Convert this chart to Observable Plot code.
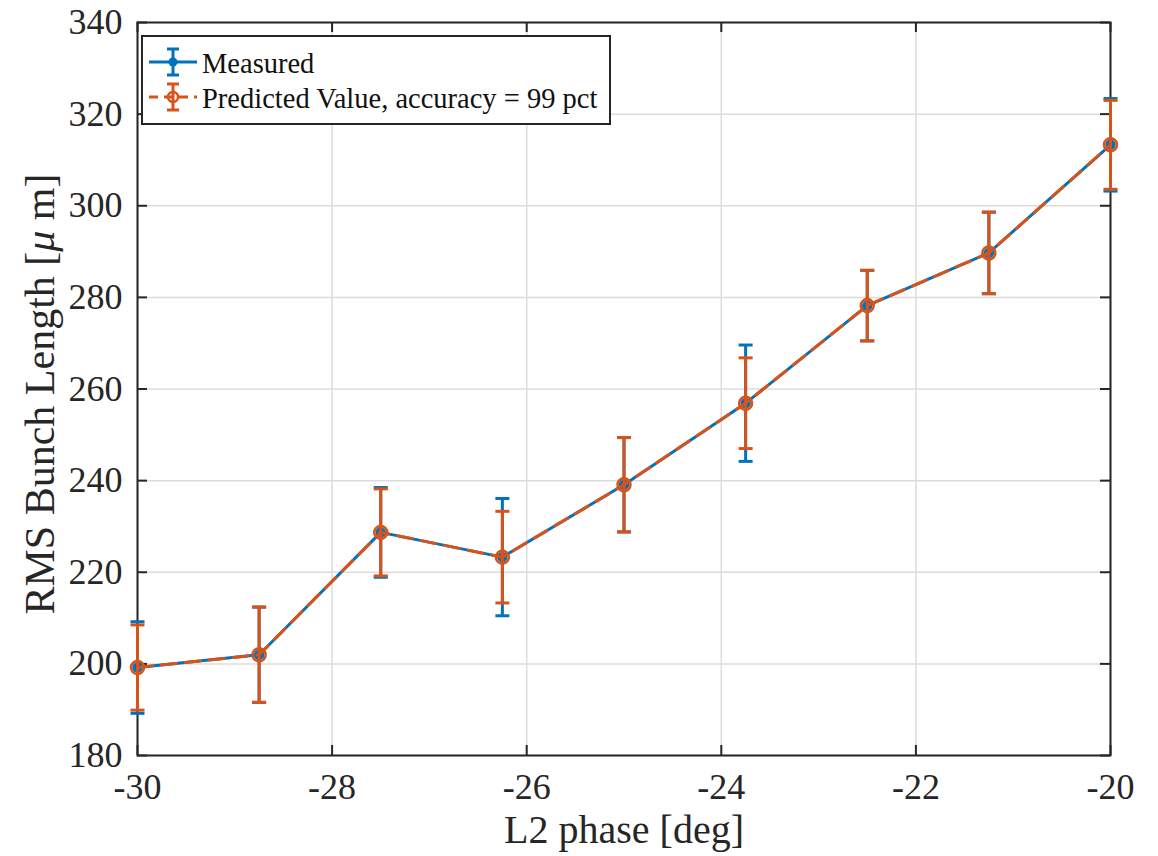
<!DOCTYPE html>
<html>
<head>
<meta charset="utf-8">
<script src="https://cdn.jsdelivr.net/npm/d3@7"></script>
<script src="https://cdn.jsdelivr.net/npm/@observablehq/plot@0.6"></script>
<style>
  html, body { margin: 0; padding: 0; background: #fff; }
  #wrap { position: relative; width: 1158px; height: 856px; }
  #legend { position: absolute; left: 141px; top: 35px; }
</style>
</head>
<body>
<div id="wrap"></div>
<script>
// ---- data ----
const phase        = [-30, -28.75, -27.5, -26.25, -25, -23.75, -22.5, -21.25, -20];
const measured     = [199.2, 202.0, 228.7, 223.3, 239.1, 256.9, 278.2, 289.7, 313.3];
const measuredErr  = [10.0, 10.4, 9.8, 12.8, 10.3, 12.7, 7.7, 8.9, 10.1];
const predicted    = [199.2, 202.0, 228.7, 223.3, 239.1, 256.9, 278.2, 289.7, 313.3];
const predictedErr = [9.3, 10.4, 9.5, 10.0, 10.3, 9.9, 7.7, 8.9, 9.7];
const xTicks = [-30, -28, -26, -24, -22, -20];
const yTicks = [180, 200, 220, 240, 260, 280, 300, 320, 340];
const seriesNames = ["Measured", "Predicted Value, accuracy = 99 pct"];
const xLabel = "L2 phase [deg]";
const yLabel = "RMS Bunch Length [μ m]";

const BLUE = "#0072BD", ORANGE = "#D95319", AX = "#262626", GRID = "#dcdcdc";
const FONT = "'Liberation Serif', 'Times New Roman', serif";

const W = 1158, H = 856, mL = 137, mR = 48, mT = 22, mB = 101;
const plotW = W - mL - mR, plotH = H - mT - mB, TICK = 10;

const meas = phase.map((x, i) => ({x, y: measured[i], e: measuredErr[i]}));
const pred = phase.map((x, i) => ({x, y: predicted[i], e: predictedErr[i]}));

const capSymbol = { draw(ctx) { ctx.moveTo(-7, 0); ctx.lineTo(7, 0); } };

function series(data, color, opts) {
  return [
    Plot.line(data, {x: "x", y: "y", stroke: color, strokeWidth: 3, strokeDasharray: opts.dash}),
    Plot.ruleX(data, {x: "x", y1: d => d.y - d.e, y2: d => d.y + d.e, stroke: color, strokeWidth: 3}),
    Plot.dot(data, {x: "x", y: d => d.y + d.e, symbol: capSymbol, r: 7, stroke: color, fill: "none", strokeWidth: 3}),
    Plot.dot(data, {x: "x", y: d => d.y - d.e, symbol: capSymbol, r: 7, stroke: color, fill: "none", strokeWidth: 3}),
    opts.open
      ? Plot.dot(data, {x: "x", y: "y", r: 6.5, stroke: color, fill: "none", strokeWidth: 2.5})
      : Plot.dot(data, {x: "x", y: "y", r: 4.5, fill: color, stroke: color})
  ];
}

const chart = Plot.plot({
  width: W, height: H,
  marginLeft: mL, marginRight: mR, marginTop: mT, marginBottom: mB,
  style: {fontFamily: FONT, fontSize: "36px", background: "white", color: "#262626"},
  x: {domain: [-30, -20]},
  y: {domain: [180, 340]},
  marks: [
    Plot.gridX(xTicks, {stroke: GRID, strokeOpacity: 1, strokeWidth: 1.5}),
    Plot.gridY(yTicks, {stroke: GRID, strokeOpacity: 1, strokeWidth: 1.5}),
    Plot.frame({stroke: AX, strokeWidth: 2}),
    Plot.tickX(xTicks, {x: d => d, insetTop: plotH - TICK, stroke: AX, strokeWidth: 2}),
    Plot.tickX(xTicks, {x: d => d, insetBottom: plotH - TICK, stroke: AX, strokeWidth: 2}),
    Plot.tickY(yTicks, {y: d => d, insetRight: plotW - TICK, stroke: AX, strokeWidth: 2}),
    Plot.tickY(yTicks, {y: d => d, insetLeft: plotW - TICK, stroke: AX, strokeWidth: 2}),
    Plot.axisX({ticks: xTicks, tickSize: 0, tickPadding: 18, tickFormat: d => String(d), label: null, fontSize: 36, fill: "#262626"}),
    Plot.axisY({ticks: yTicks, tickSize: 0, tickPadding: 15, tickFormat: d => String(d), label: null, fontSize: 36, fill: "#262626"}),
    Plot.text([xLabel], {text: d => d, frameAnchor: "bottom", textAnchor: "middle", dy: 87, lineAnchor: "bottom", fontSize: 40, fill: "#262626"}),
    Plot.text([yLabel], {text: d => d, frameAnchor: "left", textAnchor: "middle", dx: -84, dy: 5, rotate: -90, lineAnchor: "bottom", fontSize: 42, fill: "#262626"}),
    ...series(meas, BLUE, {dash: null, open: false}),
    ...series(pred, ORANGE, {dash: "15,9", open: true})
  ]
});

// italic mu in the y label
chart.querySelectorAll("text").forEach(t => {
  if (t.textContent === yLabel) {
    const parts = yLabel.split("μ");
    t.textContent = "";
    const ns = "http://www.w3.org/2000/svg";
    const a = document.createElementNS(ns, "tspan"); a.textContent = parts[0];
    const m = document.createElementNS(ns, "tspan"); m.textContent = "μ"; m.setAttribute("font-style", "italic");
    const b = document.createElementNS(ns, "tspan"); b.textContent = parts[1];
    t.append(a, m, b);
  }
});

const wrap = document.getElementById("wrap");
wrap.appendChild(chart);

// ---- legend (inside the axes, upper-left) ----
const colors = [BLUE, ORANGE];
const lg = d3.create("svg").attr("id", "legend").attr("width", 472).attr("height", 92)
  .style("font-family", FONT);
lg.append("rect").attr("x", 1).attr("y", 1).attr("width", 468).attr("height", 88)
  .attr("fill", "white").attr("stroke", AX).attr("stroke-width", 2);
const rows = [27, 62];
seriesNames.forEach((name, i) => {
  const g = lg.append("g").attr("transform", `translate(0,${rows[i]})`);
  const c = colors[i];
  g.append("line").attr("x1", 8).attr("x2", 56).attr("y1", 0).attr("y2", 0)
    .attr("stroke", c).attr("stroke-width", 3).attr("stroke-dasharray", i ? "9,6" : null);
  g.append("line").attr("x1", 32).attr("x2", 32).attr("y1", -13).attr("y2", 13).attr("stroke", c).attr("stroke-width", 3);
  g.append("line").attr("x1", 26).attr("x2", 38).attr("y1", -13).attr("y2", -13).attr("stroke", c).attr("stroke-width", 3);
  g.append("line").attr("x1", 26).attr("x2", 38).attr("y1", 13).attr("y2", 13).attr("stroke", c).attr("stroke-width", 3);
  if (i) g.append("circle").attr("cx", 32).attr("cy", 0).attr("r", 5).attr("fill", "none").attr("stroke", c).attr("stroke-width", 2.5);
  else g.append("circle").attr("cx", 32).attr("cy", 0).attr("r", 4.5).attr("fill", c);
  g.append("text").attr("x", 61).attr("y", 11).attr("font-size", 28.5).attr("fill", "#111").text(name);
});
wrap.appendChild(lg.node());
</script>
</body>
</html>
